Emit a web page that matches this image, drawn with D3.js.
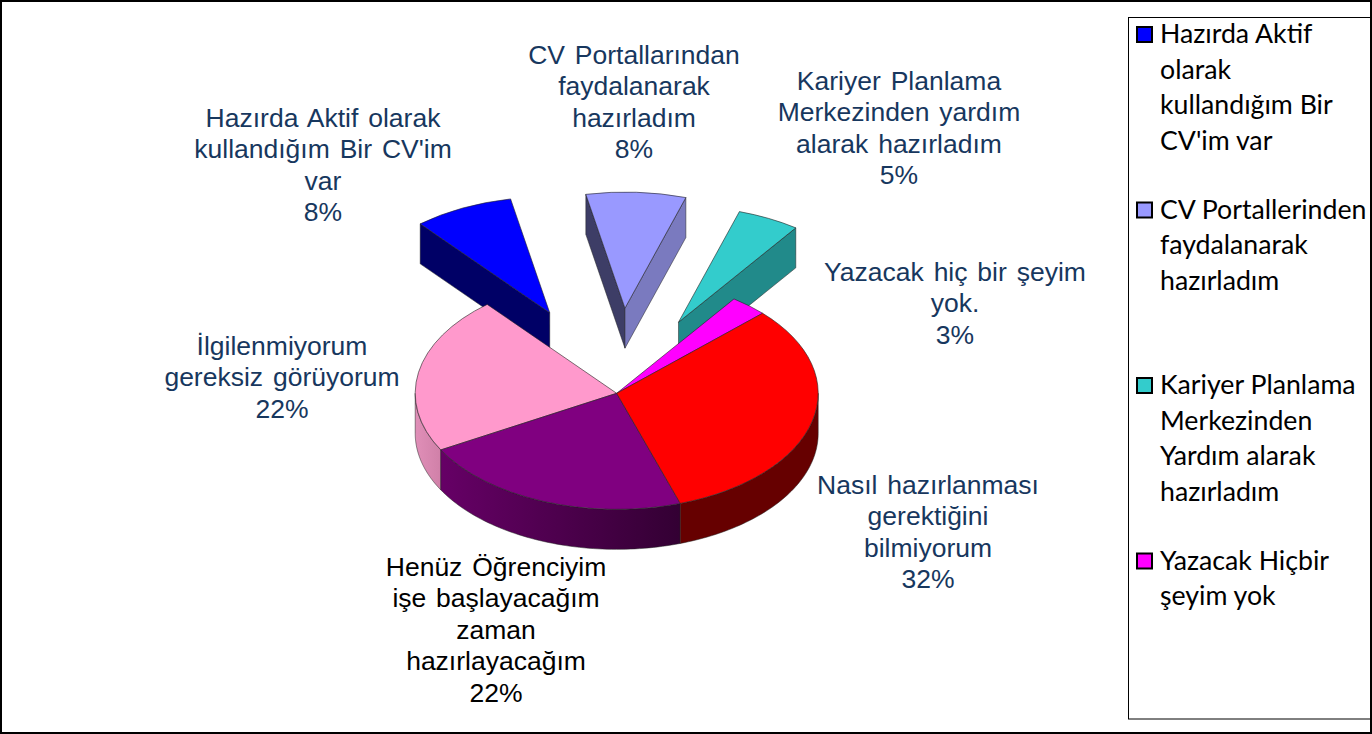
<!DOCTYPE html>
<html>
<head>
<meta charset="utf-8">
<style>
  html, body { margin: 0; padding: 0; background: #fff; }
  svg { display: block; }
  .pie-label { font-family: "Liberation Sans", Arial, sans-serif; font-size: 26.5px; word-spacing: 2.5px; text-anchor: middle; }
  .legend-label { font-family: Lato, "Open Sans", sans-serif; font-size: 26.7px; fill: #000; }
</style>
</head>
<body>
<div id="chart"></div>
<script src="https://cdn.jsdelivr.net/npm/d3@7"></script>
<script>
const categories = [
  "Hazırda Aktif olarak kullandığım Bir CV'im var",
  'CV Portallarından faydalanarak hazırladım',
  'Kariyer Planlama Merkezinden yardım alarak hazırladım',
  'Yazacak hiç bir şeyim yok.',
  'Nasıl hazırlanması gerektiğini bilmiyorum',
  'Henüz Öğrenciyim işe başlayacağım zaman hazırlayacağım',
  'İlgilenmiyorum gereksiz görüyorum'
];
const values = [8, 8, 5, 3, 32, 22, 22];
const labelLines = [
  ['Hazırda Aktif olarak', "kullandığım Bir CV'im", 'var'],
  ['CV Portallarından', 'faydalanarak', 'hazırladım'],
  ['Kariyer Planlama', 'Merkezinden yardım', 'alarak hazırladım'],
  ['Yazacak hiç bir şeyim', 'yok.'],
  ['Nasıl hazırlanması', 'gerektiğini', 'bilmiyorum'],
  ['Henüz Öğrenciyim', 'işe başlayacağım', 'zaman', 'hazırlayacağım'],
  ['İlgilenmiyorum', 'gereksiz görüyorum']
];
const legendLines = [
  ['Hazırda Aktif', 'olarak', 'kullandığım Bir', "CV'im var"],
  ['CV Portallerinden', 'faydalanarak', 'hazırladım'],
  ['Kariyer Planlama', 'Merkezinden', 'Yardım alarak', 'hazırladım'],
  ['Yazacak Hiçbir', 'şeyim yok']
];

const sliceColors = ['#0000ff', '#9999ff', '#33cccc', '#ff00ff', '#ff0000', '#800080', '#ff99cc'];
const labelColors = ['#17375e', '#17375e', '#17375e', '#17375e', '#17375e', '#000000', '#17375e'];
const explode = [155, 148, 138, 0, 0, 0, 0];
const labelAnchors = [[323, 127], [634, 64], [899, 90], [955, 281], [928, 494], [496, 576], [282, 355]];

const width = 1372, height = 734;
const cx = 616.7, cy = 393.3, radius = 201.5, tilt = 0.576, depth = 40;
const rad = Math.PI / 180;

const svg = d3.select('#chart').append('svg')
    .attr('width', width)
    .attr('height', height);

svg.append('rect')
    .attr('x', 1).attr('y', 1)
    .attr('width', width - 2).attr('height', height - 2)
    .attr('fill', '#fff').attr('stroke', '#000').attr('stroke-width', 2);

const pie = d3.pie().sort(null).startAngle(-40 * rad).endAngle(320 * rad);
const slices = pie(values).map((d, i) => {
  const mid = (d.startAngle + d.endAngle) / 2;
  return {
    ...d, i,
    ox: cx + explode[i] * Math.sin(mid),
    oy: cy - explode[i] * tilt * Math.cos(mid)
  };
});

// rim point of an angle, seen through the tilt
const rim = (s, a) => [s.ox + radius * Math.sin(a), s.oy - radius * tilt * Math.cos(a)];
const line = d3.line();
const arc = d3.arc().innerRadius(0).outerRadius(radius);

function wallRange(s) {
  return [Math.max(s.startAngle, Math.PI / 2), Math.min(s.endAngle, 1.5 * Math.PI)];
}

function wallPath(s) {
  const [a0, a1] = wallRange(s);
  if (a1 <= a0) return null;
  const steps = d3.range(0, 61).map(t => a0 + (a1 - a0) * t / 60);
  const top = steps.map(a => rim(s, a));
  const bottom = steps.slice().reverse().map(a => { const p = rim(s, a); return [p[0], p[1] + depth]; });
  return line(top.concat(bottom)) + 'Z';
}

function facePath(s, a) {
  const p = rim(s, a);
  return line([[s.ox, s.oy], p, [p[0], p[1] + depth], [s.ox, s.oy + depth]]) + 'Z';
}

// wall shading, the 3d pie darkens towards the right
const defs = svg.append('defs');
const wallFills = {
  5: ['#660066', '#330033'],
  6: ['#e08fb8', '#d080a8']
};
Object.keys(wallFills).forEach(k => {
  const [a0, a1] = wallRange(slices[k]);
  const xs = d3.range(0, 41).map(t => rim(slices[k], a0 + (a1 - a0) * t / 40)[0]);
  const g = defs.append('linearGradient')
      .attr('id', 'wall' + k)
      .attr('gradientUnits', 'userSpaceOnUse')
      .attr('x1', d3.min(xs)).attr('x2', d3.max(xs))
      .attr('y1', 0).attr('y2', 0);
  g.append('stop').attr('offset', 0).attr('stop-color', wallFills[k][0]);
  g.append('stop').attr('offset', 1).attr('stop-color', wallFills[k][1]);
});

const faceColors = {
  0: { start: '#000066' },
  1: { start: '#3d3d66', end: '#7a7abf' },
  2: { end: '#218a8a' }
};
const edge = '#222';

const drawOrder = [0, 1, 2, 3, 6, 5, 4];
const pieGroup = svg.append('g');

// side faces of the pulled out slices, walls of the main body, then the tops
drawOrder.forEach(i => {
  const s = slices[i];
  const g = pieGroup.append('g');
  const faces = faceColors[i] || {};
  if (faces.start) {
    g.append('path').attr('d', facePath(s, s.startAngle))
        .attr('fill', faces.start).attr('stroke', edge).attr('stroke-width', 0.5);
  }
  if (faces.end) {
    g.append('path').attr('d', facePath(s, s.endAngle))
        .attr('fill', faces.end).attr('stroke', edge).attr('stroke-width', 0.5);
  }
  const wall = wallPath(s);
  if (wall) {
    g.append('path').attr('d', wall)
        .attr('fill', wallFills[i] ? 'url(#wall' + i + ')' : '#660000')
        .attr('stroke', edge).attr('stroke-width', 0.5);
  }
  g.append('path')
      .attr('d', arc({ startAngle: s.startAngle, endAngle: s.endAngle }))
      .attr('transform', 'translate(' + s.ox + ',' + s.oy + ') scale(1,' + tilt + ')')
      .attr('vector-effect', 'non-scaling-stroke')
      .attr('fill', sliceColors[i])
      .attr('stroke', edge).attr('stroke-width', 0.6);
});

// data labels
const labelGroup = svg.append('g');
slices.forEach(s => {
  const lines = labelLines[s.i].concat(values[s.i] + '%');
  const t = labelGroup.append('text')
      .attr('class', 'pie-label')
      .attr('fill', labelColors[s.i]);
  lines.forEach((l, j) => {
    t.append('tspan')
        .attr('x', labelAnchors[s.i][0])
        .attr('y', labelAnchors[s.i][1] + j * 31.4)
        .text(l);
  });
});

// legend
svg.append('rect')
    .attr('x', 1128.5).attr('y', 17.5)
    .attr('width', 242).attr('height', 701.5)
    .attr('fill', '#fff').attr('stroke', '#000').attr('stroke-width', 1);

const legend = svg.append('g').selectAll('g')
    .data(legendLines)
  .enter().append('g')
    .attr('transform', (d, i) => 'translate(1138,' + (43 + i * 175.5) + ')');

legend.append('rect')
    .attr('x', -1).attr('y', -16)
    .attr('width', 15).attr('height', 15)
    .attr('fill', (d, i) => sliceColors[i])
    .attr('stroke', '#000').attr('stroke-width', 2);

legend.selectAll('text')
    .data(d => d)
  .enter().append('text')
    .attr('class', 'legend-label')
    .attr('x', 22)
    .attr('y', (d, j) => j * 35.6)
    .text(d => d);
</script>
</body>
</html>
